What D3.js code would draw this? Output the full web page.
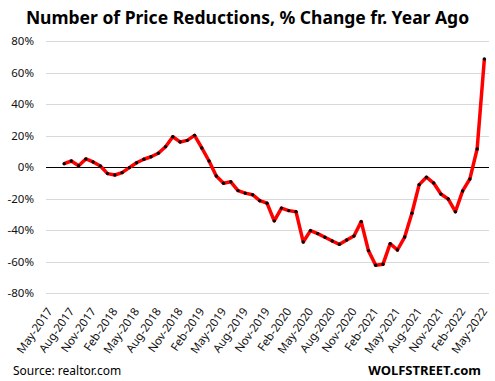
<!DOCTYPE html>
<html>
<head>
<meta charset="utf-8">
<script src="https://cdn.jsdelivr.net/npm/d3@7"></script>
<style>
  html, body { margin: 0; padding: 0; background: #fff; }
  svg { display: block; }
</style>
</head>
<body>
<div id="chart"></div>
<script>
// Monthly categories May-2017 .. May-2022 (61 months)
const months = ['Jan', 'Feb', 'Mar', 'Apr', 'May', 'Jun', 'Jul', 'Aug', 'Sep', 'Oct', 'Nov', 'Dec'];
const categories = [];
for (let i = 0; i < 61; i++) {
  const m = (4 + i) % 12;
  const yr = 2017 + Math.floor((4 + i) / 12);
  categories.push(`${months[m]}-${yr}`);
}

// % change YoY; no data for May/Jun 2017
const values = [
  null, null,
  2.3, 4.0, 1.0, 5.3, 3.4, 0.8,
  -4.0, -4.9, -3.4, -0.2, 2.9, 5.1, 6.7, 8.9, 13.1, 19.4, 16.1, 17.1,
  20.3, 12.3, 4.0, -5.5, -10.1, -9.2, -14.8, -16.4, -17.4, -21.2, -22.8, -34.0,
  -25.9, -27.5, -28.2, -47.4, -40.2, -42.1, -44.4, -46.8, -48.9, -46.2, -43.6, -34.5,
  -52.9, -62.2, -61.6, -48.5, -52.5, -44.3, -29.2, -11.0, -6.3, -10.0, -17.0, -20.1,
  -28.2, -15.0, -7.4, 11.6, 68.8
];

const yTicks = [80, 60, 40, 20, 0, -20, -40, -60, -80];
const title = 'Number of Price Reductions, % Change fr. Year Ago';
const source = 'Source: realtor.com';
const brand = 'WOLFSTREET.com';

const width = 495, height = 381;
const plot = { left: 46, right: 488, top: 41.3, bottom: 293.3 };
const font = '"Noto Sans", "Open Sans", sans-serif';

const svg = d3.select('#chart').append('svg')
  .attr('width', width).attr('height', height)
  .style('font-family', font);

const x = d3.scaleBand().domain(categories).range([plot.left, plot.right]);
const y = d3.scaleLinear().domain([-80, 80]).range([plot.bottom, plot.top]);
const cx = (c) => x(c) + x.bandwidth() / 2;

// title
svg.append('text')
  .attr('x', 247.5).attr('y', 24)
  .attr('text-anchor', 'middle')
  .style('font-size', '17.5px').style('font-weight', 'bold')
  .attr('fill', '#000')
  .text(title);

// gridlines
svg.append('g').selectAll('line')
  .data(yTicks.filter((t) => t !== 0))
  .join('line')
  .attr('x1', plot.left).attr('x2', plot.right + 1)
  .attr('y1', (d) => Math.round(y(d)) + 0.5).attr('y2', (d) => Math.round(y(d)) + 0.5)
  .attr('stroke', '#d9d9d9').attr('stroke-width', 1);

// y labels
svg.append('g').selectAll('text')
  .data(yTicks)
  .join('text')
  .attr('x', 34).attr('y', (d) => y(d))
  .attr('dy', '0.35em')
  .attr('text-anchor', 'end')
  .style('font-size', '11.5px')
  .attr('fill', '#111')
  .text((d) => `${d}%`);

// zero line
svg.append('line')
  .attr('x1', plot.left).attr('x2', plot.right + 1)
  .attr('y1', Math.round(y(0)) + 0.5).attr('y2', Math.round(y(0)) + 0.5)
  .attr('stroke', '#000').attr('stroke-width', 1.2);

// x labels every 3 months
svg.append('g').selectAll('text')
  .data(categories.filter((_, i) => i % 3 === 0))
  .join('text')
  .attr('transform', (d) => `translate(${cx(d)},309) rotate(-55)`)
  .attr('dy', '0.35em')
  .attr('text-anchor', 'end')
  .style('font-size', '11.5px')
  .attr('fill', '#111')
  .text((d) => d);

const pts = categories.map((c, i) => ({ c, v: values[i] })).filter((d) => d.v !== null);

svg.append('path')
  .datum(pts)
  .attr('fill', 'none')
  .attr('stroke', '#ff0000')
  .attr('stroke-width', 3.5)
  .attr('stroke-linejoin', 'round')
  .attr('d', d3.line().x((d) => cx(d.c)).y((d) => y(d.v)));

svg.append('g').selectAll('circle')
  .data(pts)
  .join('circle')
  .attr('cx', (d) => cx(d.c)).attr('cy', (d) => y(d.v))
  .attr('r', 1.7)
  .attr('fill', '#000');

// footer
svg.append('text')
  .attr('x', 13).attr('y', 375)
  .style('font-size', '12px')
  .attr('fill', '#000')
  .text(source);

svg.append('text')
  .attr('x', 481).attr('y', 375)
  .attr('text-anchor', 'end')
  .style('font-size', '13px').style('font-weight', 'bold')
  .attr('fill', '#000')
  .text(brand);
</script>
</body>
</html>
